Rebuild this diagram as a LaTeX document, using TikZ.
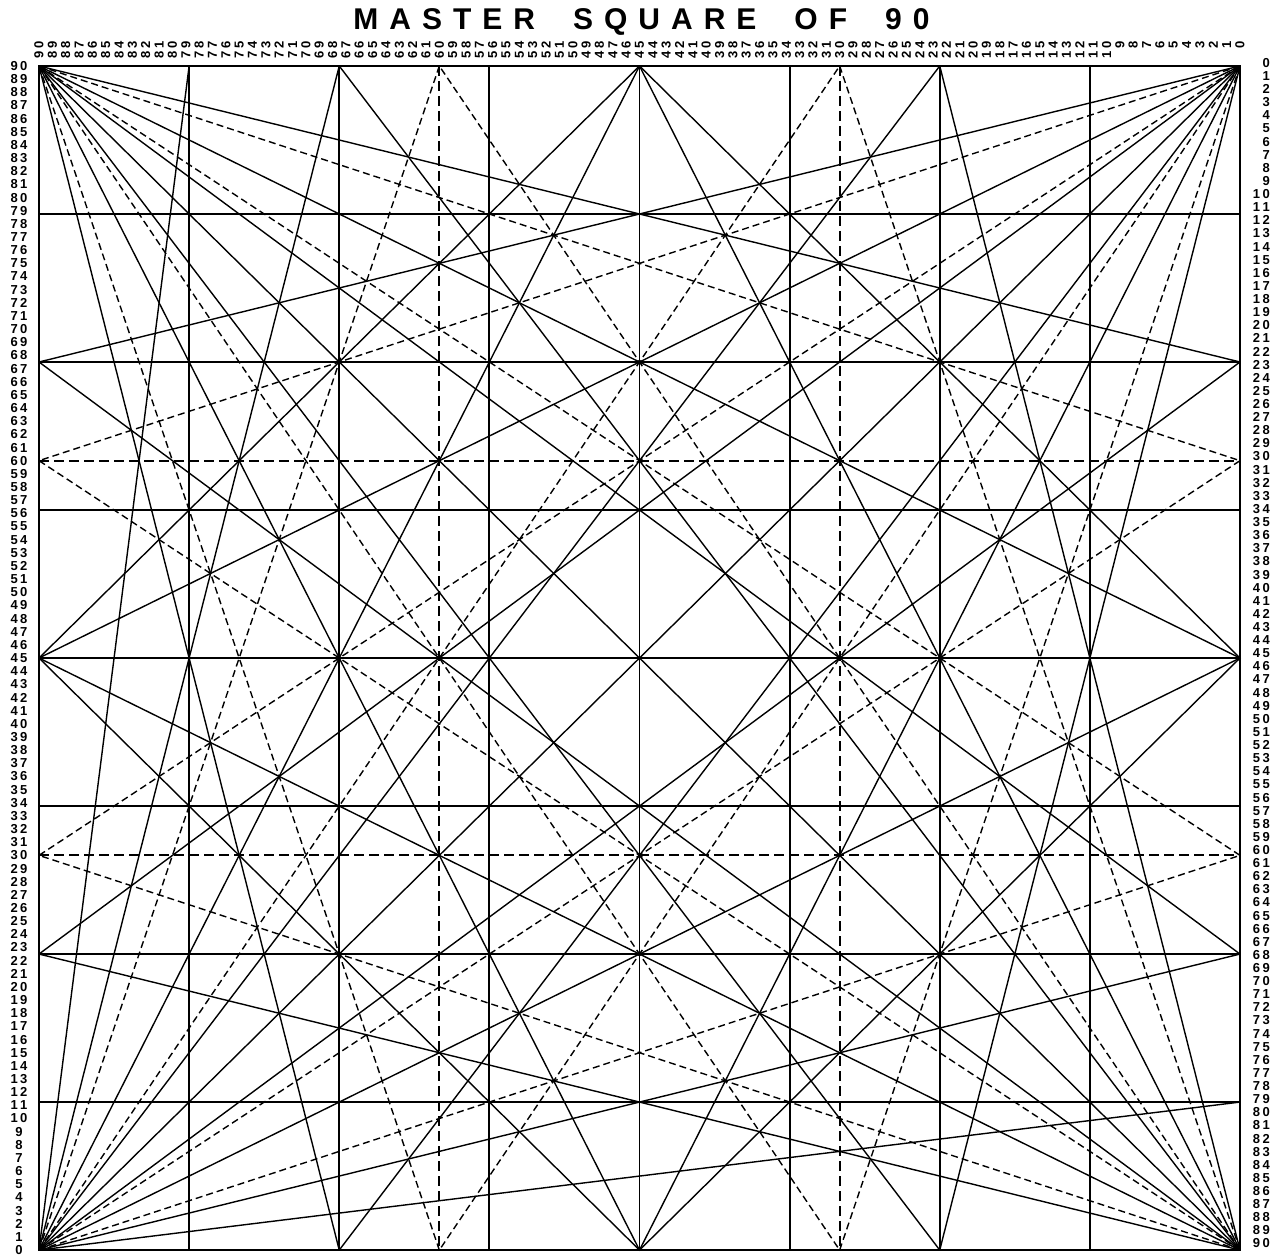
\documentclass[tikz,border=0pt]{standalone}
\usepackage{fontspec}
\setmainfont{Liberation Sans}
\usetikzlibrary{calc}
\newcommand{\gap}{\kern11pt}
\newcommand{\wgap}{\kern38pt}
% number with a little air between its digits
\newcommand{\spreadnum}[1]{%
  \ifnum#1<10 #1\else
    \pgfmathtruncatemacro{\tens}{#1/10}%
    \pgfmathtruncatemacro{\ones}{mod(#1,10)}%
    \tens\kern2.5pt\ones
  \fi}
\begin{document}
\begin{tikzpicture}[
    x=13.344pt, y=13.156pt,
    frame/.style={line width=2pt},
    gridline/.style={line width=1.9pt},
    thirdline/.style={line width=1.9pt, dash pattern=on 10pt off 5pt},
    fanline/.style={line width=1.4pt},
    fanthird/.style={line width=1.4pt, dash pattern=on 7pt off 4pt},
    numlabel/.style={inner sep=0pt, font=\bfseries\fontsize{13}{13}\selectfont},
    toplabel/.style={numlabel, rotate=90, anchor=east},
    leftlabel/.style={numlabel, anchor=center},
    rightlabel/.style={numlabel, anchor=east},
    titlelabel/.style={inner sep=0pt, font=\bfseries\fontsize{30}{30}\selectfont}
  ]
  \useasboundingbox ($(0,0)+(-39pt,-8pt)$) rectangle ($(90,90)+(37pt,66pt)$);

  % corners and division points
  \coordinate (SW) at (0,0);
  \coordinate (SE) at (90,0);
  \coordinate (NW) at (0,90);
  \coordinate (NE) at (90,90);
  \foreach \k in {1,...,7} {
    \coordinate (T-\k) at (11.25*\k,90);
    \coordinate (B-\k) at (11.25*\k,0);
    \coordinate (L-\k) at (0,11.25*\k);
    \coordinate (R-\k) at (90,11.25*\k);
  }
  \foreach \t/\d in {a/30,b/60} {
    \coordinate (T-\t) at (\d,90);
    \coordinate (B-\t) at (\d,0);
    \coordinate (L-\t) at (0,\d);
    \coordinate (R-\t) at (90,\d);
  }

  % grid of eighths and thirds
  \foreach \k in {1,...,7} {
    \draw[gridline] (T-\k) -- (B-\k);
    \draw[gridline] (L-\k) -- (R-\k);
  }
  \foreach \t in {a,b} {
    \draw[thirdline] (T-\t) -- (B-\t);
    \draw[thirdline] (L-\t) -- (R-\t);
  }

  % diagonals and diamond
  \draw[fanline] (SW) -- (NE);
  \draw[fanline] (NW) -- (SE);
  \draw[fanline] (T-4) -- (R-4) -- (B-4) -- (L-4) -- cycle;

  % angles from the corners
  \foreach \c/\ea/\eb in {SW/T/R, SE/T/L, NW/B/R, NE/B/L} {
    \foreach \p in {2,4,6} {
      \draw[fanline] (\c) -- (\ea-\p);
      \draw[fanline] (\c) -- (\eb-\p);
    }
    \foreach \p in {a,b} {
      \draw[fanthird] (\c) -- (\ea-\p);
      \draw[fanthird] (\c) -- (\eb-\p);
    }
  }
  \draw[fanline] (SW) -- (T-1);
  \draw[fanline] (SW) -- (R-1);

  \draw[frame] (SW) rectangle (NE);

  % scales
  \foreach \n in {0,...,90} {
    \node[toplabel] (top-\n) at ($(90-\n,90)+(0,25pt)$) {\spreadnum{\n}};
    \node[leftlabel] (left-\n) at ($(0,\n)+(-20pt,0)$) {\spreadnum{\n}};
    \node[rightlabel] (right-\n) at ($(90,90-\n*0.997)+(30pt,3pt)$) {\spreadnum{\n}};
  }

  \node[titlelabel] (title) at ($(45,90)+(2pt,44pt)$)
    {M\gap A\gap S\gap T\gap E\gap R\wgap S\gap Q\gap U\gap A\gap R\gap E\wgap O\gap F\wgap 9\gap 0};
\end{tikzpicture}
\end{document}
